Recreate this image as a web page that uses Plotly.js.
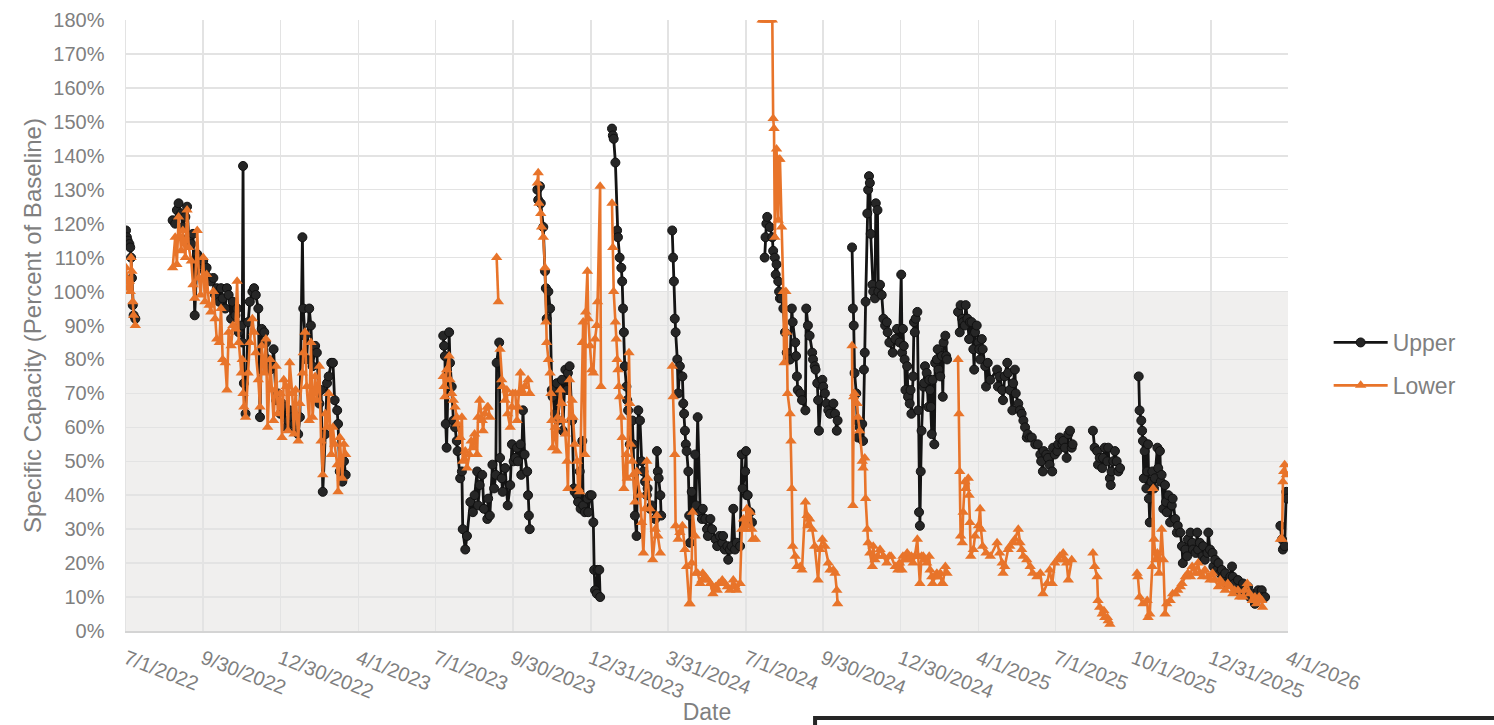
<!DOCTYPE html>
<html><head><meta charset="utf-8">
<script src="https://cdn.plot.ly/plotly-3.0.1.min.js"></script>
<style>html,body{margin:0;padding:0;background:#fff;}#chart{width:1494px;height:725px;}</style>
</head><body><div id="chart"></div>
<script>
// Days since 2022-07-01 for each reading; null values mark gaps in the record
const upperDays = [
0,1,2,4,5,6,7,8,9,11, 30,
55,58,60,62,65,67,70,72,74,77,79,81,84,86,88,91,93,95,98,100,103,105,107,110,112,114,117,119,121,124,126,129,131,133,136,137,138,139,141,144,146,149,151,153,156,158,160,163,165,167,170,172,174,177,179,182,184,186,189,191,193,196,198,200,203,205,208,209,211,213,216,218,220,223,225,228,230,232,235,237,239,242,244,246,249,250,252,255,257,259, 320,
374,375,376,377,378,381,382,384,386,388,390,391,394,396,397,400,402,406,409,411,414,415,417,420,422,426,427,429,432,434,436,437,440,441,443,444,447,450,453,455,457,459,461,462,465,466,468,470,473,474,475,476, 480,
485,486,488,489,492,494,495,496,498,500,502,503,506,508,509,512,514,515,518,520,521,523,526,528,529,532,533,535,536,538,539,541,544,545,547,549,551,552,553,555,556,558,559, 566,
573,574,575,577,579,580,582,584,585,586,587,588,590,591,592,594,597,598,600,602,604,606,608,610,612,614,615,618,620,624,626,627,628,630,631, 637,
644,645,646,647,648,650,651,653,656,657,658,659,660,661,663,664,665,667,670,671,672,674,677,679,680,683,685,686,689,691,695,697,700,703,704,706,709,710,712,714,716,718,720,724,726,727,730,731,732,733,736,738, 746,
753,754,755,756,759,762,763,765,766,767,769,770,771,773,775,777,779,782,783,785,786,789,790,791,792,795,797,801,802,804,806,809,810,812,813,815,816,817,821,822,824,826,828,830,834,836,838,839, 848,
856,857,858,859,861,862,863,865,868,869,870,871,872,874,875,876,877,878,880,881,883,884,886,887,889,891,893,895,897,898,900,904,907,909,912,914,915,916,917,918,919,921,922,924,925,926,928,929,930,931,933,934,935,936,937,938,940,941,942,944,946,947,948,949,950,951,953,954,956,957,958,960,962,963,964,966,967,968, 975,
981,983,984,986,987,989,990,992,994,995,997,999,1000,1001,1003,1005,1006,1007,1009,1010,1013,1014,1016,1019,1027,1028,1030,1033,1034,1036,1039,1040,1042,1045,1046,1048,1049,1052,1054,1056,1058,1060,1062,1063,1066,1068,1072,1075,1078,1079,1081,1082,1085,1087,1089,1092,1093,1095,1098,1099,1101,1104,1105,1107,1109,1111,1113,1115,1116, 1128,
1140,1142,1145,1146,1148,1151,1152,1154,1157,1158,1160,1161,1162,1164,1166,1168,1170,1172, 1180,
1194,1195,1197,1198,1199,1200,1201,1203,1204,1205,1206,1207,1209,1210,1212,1213,1216,1217,1219,1220,1221,1223,1225,1226,1227,1229,1231,1233,1234,1237,1239,1240,1243,1245,1246,1249,1251,1252,1255,1257,1258,1261,1263,1264,1266,1269,1270,1272,1275,1276,1278,1281,1282,1284,1286,1288,1290,1292,1293,1296,1298,1302,1304,1305,1307,1311,1313,1317,1319,1323,1325,1328,1331,1333,1335,1339,1340,1343, 1350,
1361,1363,1364,1366,1368,1369
];
const upperPct = [
118,116,115,114,113,110,104,96,93,92, null,
121,120,124,126,123,119,122,125,116,114,117,93,111,110,108,109,106,107,104,103,104,99,101,97,101,98,95,101,99,92,97,93,95,88,90,85,137,73,64,91,97,100,101,99,95,63,89,88,85,80,77,78,83,68,70,64,67,66,60,62,65,63,61,59,58,63,116,95,87,80,95,90,78,84,82,67,71,41,58,73,75,79,79,68,65,61,47,44,50,46, null,
87,84,81,61,54,88,79,72,62,60,56,53,45,47,30,24,28,38,35,40,47,37,43,46,36,33,39,34,49,42,46,79,85,51,45,41,48,37,43,55,50,51,54,50,55,46,65,52,47,40,34,30, null,
130,127,131,126,119,106,101,92,100,95,71,69,64,73,62,70,74,59,77,71,76,78,62,42,41,40,38,47,36,56,37,35,39,35,40,40,32,18,12,11,18,18,10, null,
148,146,145,138,118,116,110,107,103,95,88,78,72,68,65,55,62,55,34,28,65,62,50,47,44,40,42,36,37,33,53,47,45,40,34, null,
118,110,103,92,88,80,70,78,75,67,64,59,55,53,47,34,26,41,36,52,37,63,35,33,36,33,30,28,33,30,27,25,28,26,28,24,25,21,24,25,36,24,26,25,52,42,47,53,40,40,35,32, null,
110,116,120,122,119,116,112,110,105,108,103,100,98,98,95,88,82,80,80,95,91,85,81,75,71,70,68,65,95,90,87,82,80,78,77,73,68,59,74,72,70,67,65,64,67,64,59,62, null,
113,95,90,76,70,62,57,60,61,56,77,82,97,123,130,134,132,117,102,100,98,126,124,100,102,99,92,90,91,88,85,82,86,89,85,105,82,89,84,80,71,78,69,67,71,64,75,91,88,92,94,65,35,31,47,59,72,73,78,76,66,74,71,66,58,74,55,79,80,83,77,75,81,69,85,87,81,80, null,
94,88,96,92,91,90,96,92,86,91,91,83,77,88,90,85,83,80,86,83,78,72,79,74,77,72,75,71,68,75,79,76,71,65,73,77,70,67,65,64,62,60,57,58,57,57,55,55,52,50,47,53,52,51,49,47,54,52,53,55,57,55,56,54,51,58,59,54,55, null,
59,54,53,49,51,48,51,54,50,54,45,43,47,50,53,50,47,48, null,
75,65,62,59,56,45,53,42,47,55,39,32,44,47,42,45,54,48,53,44,46,36,43,38,35,40,32,37,39,33,29,31,29,25,20,24,22,27,29,26,24,23,29,24,26,22,25,21,23,29,24,23,19,21,18,20,17,18,16,17,14,16,19,16,14,15,12,14,11,13,10,11,8,9,12,12,10,10, null,
31,27,24,25,41,39
];
const lowerDays = [
0,1,2,4,5,6,7,8,9,11, 30,
55,58,60,62,65,67,70,72,74,77,79,81,84,86,88,91,93,95,98,100,103,105,107,110,112,114,117,119,121,124,126,129,131,133,136,137,138,139,141,144,146,149,151,153,156,158,160,163,165,167,170,172,174,177,179,182,184,186,189,191,193,196,198,200,203,205,208,209,211,213,216,218,220,223,225,228,230,232,235,237,239,242,244,246,249,250,252,255,257,259, 320,
374,375,376,378,381,382,384,386,388,390,391,394,396,397,400,402,405,407,409,411,414,415,417,420,421,423,426,427,429, 432, 437,439, 440, 441,443,444,447,449,450,453,455,456,459,461,462,465,466,468,470,474,476, 480,
485,486,487,489,490,492,494,495,496,498,500,501,502,503,506,508,509,512,514,515,518,520,521,523,525,526,527,529,532,533,535,538,539,541,542,544,545,547,549,551,553,555,556,559,560, 566,
573,574,575,577,578,579,580,581,582,584,585,587,590,591,593,594,595,597,598,600,602,606,608,610,612,614,615,618,621,624,626,627,630, 637,
644,645,647,648,651,653,656,659,661,664,665,667,668,671,672,674,677,679,680,683,686,689,692,695,697,699,703,706,709,712,716,718,720,724,726,728,730,732,733,736,738,739,742, 746,
750,752,754,756,759,762,763,764,765,767,769,770,771,773,775,776,778,779,780,783,784,785,786,789,791,795,797,801,803,804,806,809,812,816,818,821,824,828,830,834,836,838,839, 848,
856,857,858,859,862,863,865,868,869,871,872,874,875,877,880,881,883,886,889,893,897,900,902,907,910,912,915,916,918,921,924,926,928,930,933,934,936,938,940,942,944,947,948,950,951,954,956,957,960,962,963,966,968, 975,
981,982,983,984,986,987,989,990,993,994,995,996,999,1001,1005,1007,1008,1010,1014,1019,1027,1030,1033,1034,1036,1040,1042,1046,1048,1052,1054,1056,1058,1062,1066,1069,1074,1078,1081,1086,1089,1092,1095,1099,1101,1105,1107,1109,1111,1115, 1128,
1140,1142,1145,1146,1148,1151,1153,1154,1157,1158,1160, 1180,
1192,1193,1195,1199,1204,1205,1207,1210,1211,1212,1214,1216,1218,1221,1223,1225,1227,1231,1234,1237,1240,1243,1245,1249,1252,1255,1257,1261,1264,1266,1269,1272,1276,1278,1281,1284,1288,1290,1292,1296,1299,1302,1305,1307,1311,1313,1317,1319,1322,1325,1328,1331,1333,1336,1339,1340, 1350,
1361,1363,1364,1365,1366,1368
];
const lowerPct = [
107,104,101,103,100,110,106,97,93,90, null,
107,116,108,122,112,118,110,124,113,109,102,98,118,104,99,110,97,105,96,94,100,92,86,85,95,80,79,71,88,84,90,89,103,85,76,80,70,66,63,76,85,92,88,82,74,66,84,76,86,60,80,71,62,78,64,70,57,74,72,59,79,70,58,71,56,67,76,82,88,72,62,85,63,75,68,78,56,46,64,60,70,52,60,55,49,41,57,45,55,52, null,
75,72,69,77,81,74,70,68,66,63,61,57,63,50,53,48,52,56,54,58,52,63,68,62,59,64,66,66,63, null, 110,97, null, 83,74,72,68,71,64,60,66,70,70,62,66,76,71,70,72,74,70, null,
132,135,126,123,119,116,107,91,85,80,76,70,62,54,60,53,63,71,67,62,58,50,42,74,63,68,63,55,50,42,41,85,91,52,94,106,92,84,77,76,86,90,97,131,72, null,
126,113,100,91,86,80,77,72,69,63,57,42,52,45,82,67,55,50,46,38,47,40,32,23,36,50,45,36,21,30,34,28,23, null,
78,69,52,31,27,29,31,24,19,8,8,20,35,28,17,17,14,15,17,16,15,14,11,13,12,14,15,14,13,12,15,13,12,14,30,33,30,36,31,35,30,27,27, null,
180,180,180,180,180,180,151,148,116,142,121,139,139,119,100,79,100,88,70,64,56,42,25,22,19,19,18,38,34,31,33,30,25,15,24,27,25,20,18,18,17,12,8, null,
84,37,69,70,67,63,59,50,48,51,39,30,26,23,19,25,21,22,24,22,20,22,22,19,18,20,18,22,21,23,21,22,20,22,27,22,14,22,22,21,20,22,18,16,14,16,17,16,17,14,14,19,17, null,
80,64,47,28,26,35,44,42,45,40,32,22,24,28,31,36,30,25,23,22,26,23,20,17,19,24,25,26,27,30,26,24,22,21,19,17,16,17,11,14,18,14,20,21,22,23,21,20,15,21, null,
23,19,16,9,7,5,6,4,4,3,2, null,
17,16,10,8,9,4,5,19,42,27,21,23,17,30,21,5,8,9,11,11,12,13,14,16,17,16,19,17,20,17,16,18,16,15,17,15,13,15,14,12,14,13,11,12,12,10,10,12,14,11,9,10,8,10,9,7, null,
27,27,44,47,49,46
];
const seriesNames = ['Upper', 'Lower'];
const tickDates = ['2022-07-01','2022-09-30','2022-12-30','2023-04-01','2023-07-01','2023-09-30','2023-12-31','2024-03-31','2024-07-01','2024-09-30','2024-12-30','2025-04-01','2025-07-01','2025-10-01','2025-12-31','2026-04-01'];
const tickLabels = ['7/1/2022','9/30/2022','12/30/2022','4/1/2023','7/1/2023','9/30/2023','12/31/2023','3/31/2024','7/1/2024','9/30/2024','12/30/2024','4/1/2025','7/1/2025','10/1/2025','12/31/2025','4/1/2026'];
const yTicks = [0,10,20,30,40,50,60,70,80,90,100,110,120,130,140,150,160,170,180];

const origin = Date.UTC(2022, 6, 1);
const toDate = d => new Date(origin + d * 86400000).toISOString().slice(0, 10);

const grey = '#7f7f7f';
const traces = [
  {
    x: upperDays.map(toDate), y: upperPct, name: seriesNames[0], legendgroup: 'u',
    type: 'scatter', mode: 'lines+markers', connectgaps: false,
    line: {color: '#141414', width: 2.8},
    marker: {symbol: 'circle', size: 9, color: '#262626', line: {color: '#111111', width: 1}}
  },
  {
    x: lowerDays.map(toDate), y: lowerPct, name: seriesNames[1], legendgroup: 'l',
    type: 'scatter', mode: 'lines+markers', connectgaps: false,
    line: {color: '#E8742A', width: 2.6},
    marker: {symbol: 'triangle-up', size: 10, color: '#E8742A'}
  }
];

const layout = {
  width: 1494, height: 725,
  margin: {l: 126, r: 206, t: 20, b: 94},
  paper_bgcolor: '#ffffff', plot_bgcolor: '#ffffff',
  font: {family: '"Liberation Sans", Arial, sans-serif', color: grey, size: 20},
  xaxis: {
    type: 'date', range: ['2022-07-01', '2026-04-01'],
    tickmode: 'array', tickvals: tickDates, ticktext: tickLabels, tickangle: 21,
    showgrid: true, gridcolor: '#e3e3e3', gridwidth: 1.5, zeroline: false,
    showline: true, linecolor: '#d4d4d4', linewidth: 1.5, ticks: '',
    tickfont: {size: 20, color: grey}, ticklabelstandoff: 7,
    automargin: false,
    title: {text: 'Date', font: {size: 23, color: grey}, standoff: 4}
  },
  yaxis: {
    range: [0, 180], tickmode: 'array', tickvals: yTicks, ticktext: yTicks.map(v => v + '%'),
    showgrid: true, gridcolor: '#e3e3e3', gridwidth: 1.5, zeroline: false,
    showline: true, linecolor: '#e3e3e3', linewidth: 1.5, ticks: '',
    tickfont: {size: 20, color: grey}, ticklabelstandoff: 16,
    automargin: false,
    title: {text: 'Specific Capacity (Percent of Baseline)', font: {size: 24, color: grey}, standoff: 5}
  },
  shapes: [
    {type: 'rect', xref: 'paper', yref: 'y', x0: 0, x1: 1, y0: 0, y1: 100,
     fillcolor: '#f0efee', line: {width: 0}, layer: 'below'},
    {type: 'rect', xref: 'paper', yref: 'paper', x0: 0.593, x1: 1.3, y0: -0.4, y1: -0.1425,
     fillcolor: 'rgba(0,0,0,0)', line: {color: '#262626', width: 4}, layer: 'above'}
  ],
  showlegend: true,
  legend: {
    x: 1.035, y: 0.437, xanchor: 'left', yanchor: 'middle',
    font: {size: 23, color: grey}, tracegroupgap: 10, itemwidth: 54,
    bgcolor: 'rgba(0,0,0,0)', traceorder: 'grouped'
  }
};

Plotly.newPlot('chart', traces, layout, {displayModeBar: false, staticPlot: true});
</script>
</body></html>
